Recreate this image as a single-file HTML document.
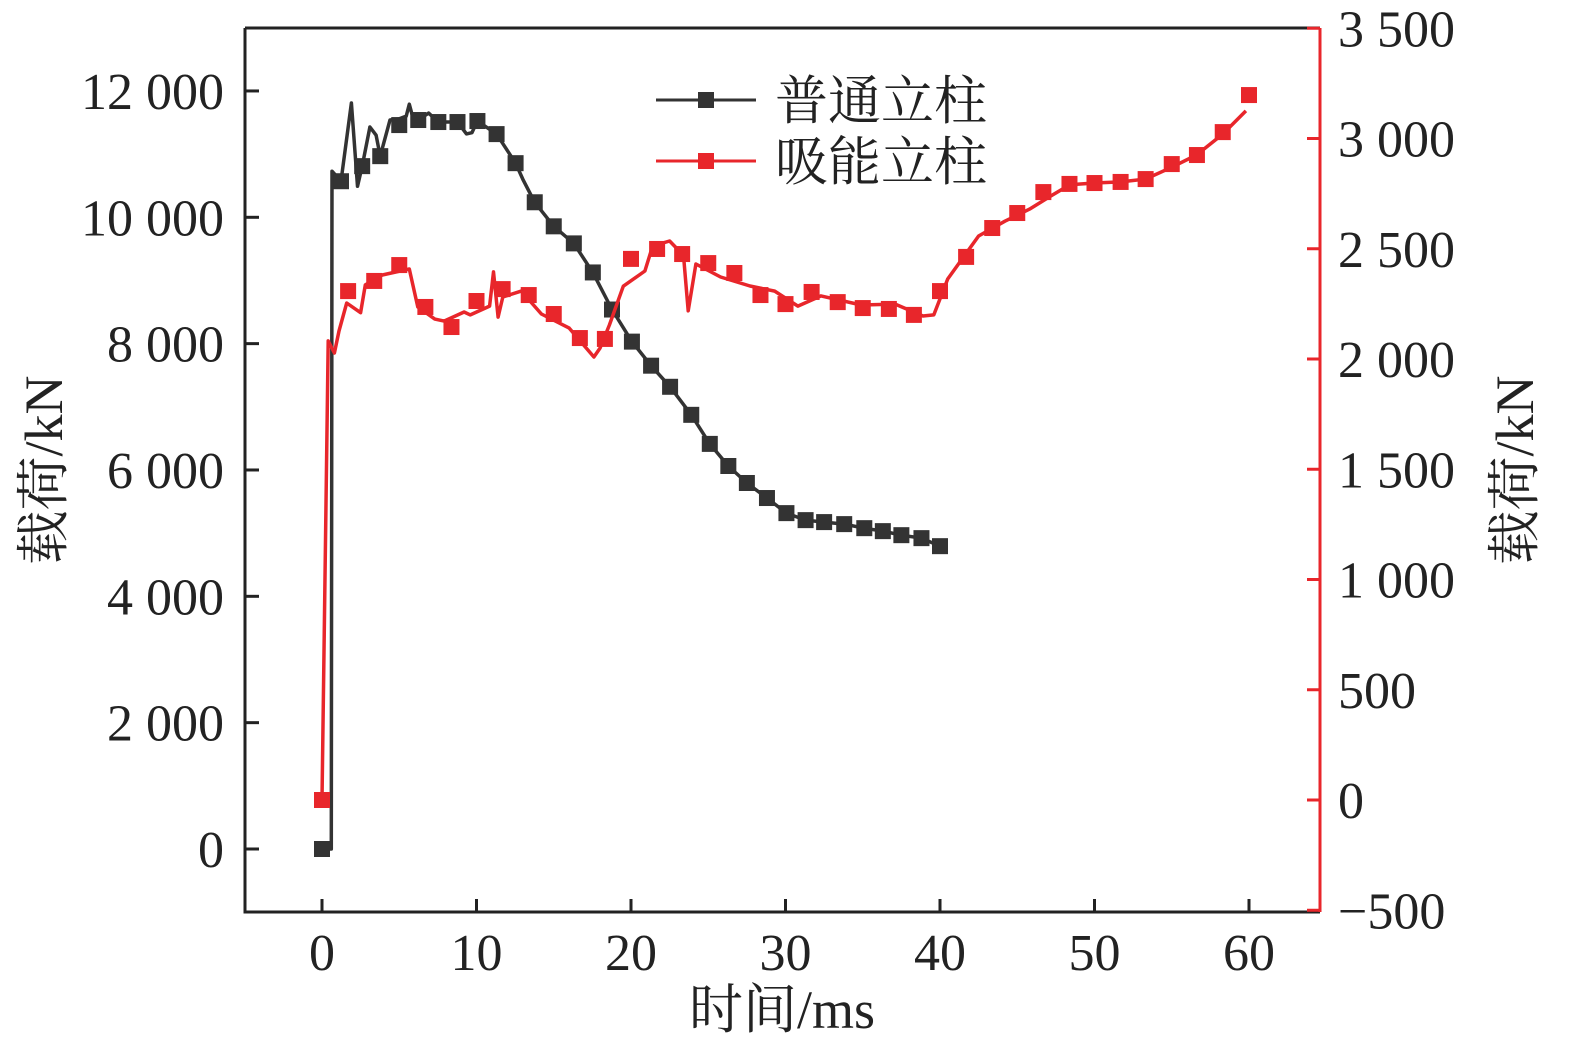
<!DOCTYPE html>
<html><head><meta charset="utf-8"><style>
html,body{margin:0;padding:0;background:#fff;}
svg text{font-family:"Liberation Serif","Noto Serif CJK SC",serif;}
</style></head><body>
<svg id="chart" width="1575" height="1049" viewBox="0 0 1575 1049" xmlns="http://www.w3.org/2000/svg">
<g id="axes"></g><g id="series"></g><g id="legend"></g>
</svg>
<script>
const xTicks=[0,10,20,30,40,50,60];
const leftTicks=[0,2000,4000,6000,8000,10000,12000];
const leftTickLabels=["0","2 000","4 000","6 000","8 000","10 000","12 000"];
const rightTicks=[-500,0,500,1000,1500,2000,2500,3000,3500];
const rightTickLabels=["\u2212500","0","500","1 000","1 500","2 000","2 500","3 000","3 500"];
const blackMarkT=[0,1.23,2.6,3.77,5.0,6.23,7.53,8.77,10.06,11.3,12.53,13.77,15.0,16.3,17.53,18.77,20.06,21.3,22.53,23.9,25.1,26.3,27.5,28.8,30.06,31.3,32.5,33.8,35.1,36.3,37.5,38.8,40.0];
const blackMarkV=[0,10571,10810,10968,11460,11540,11508,11508,11524,11317,10857,10238,9857,9587,9127,8540,8032,7651,7317,6873,6413,6063,5794,5556,5317,5206,5175,5143,5079,5032,4968,4921,4794];
const blackLineT=[0,0.6,0.65,1.23,1.9,2.3,2.6,3.1,3.5,3.77,4.4,5.0,5.45,5.65,5.9,6.23,6.9,7.53,8.77,9.35,9.7,10.06,11.3,12.53,13.0,13.77,15.0,16.3,17.53,18.77,20.06,21.3,22.53,23.9,25.1,26.3,27.5,28.8,30.06,31.3,32.5,33.8,35.1,36.3,37.5,38.8,40.0];
const blackLineV=[0,0,10730,10571,11810,10490,10810,11430,11300,10968,11540,11560,11600,11790,11560,11540,11650,11508,11508,11320,11340,11524,11317,10857,10600,10238,9857,9587,9127,8540,8032,7651,7317,6873,6413,6063,5794,5556,5317,5206,5175,5143,5079,5032,4968,4921,4794];
const redMarkT=[0,1.69,3.38,5.0,6.69,8.38,10.0,11.69,13.38,15.0,16.69,18.31,20.0,21.69,23.31,25.0,26.69,28.38,30.0,31.69,33.38,35.0,36.69,38.31,40.0,41.69,43.38,45.0,46.69,48.38,50.0,51.69,53.31,55.0,56.63,58.3,60.0];
const redMarkV=[0,2308,2354,2426,2236,2145,2263,2317,2290,2204,2095,2091,2454,2499,2476,2435,2390,2290,2249,2304,2258,2231,2227,2200,2308,2463,2594,2662,2757,2794,2798,2803,2816,2884,2925,3029,3197];
const redLineT=[0,0.4,0.8,1.1,1.6,2.5,2.8,3.9,5.65,6.2,7.3,7.9,9.2,9.6,10.85,11.1,11.4,11.7,12.9,14.2,16.0,17.6,18.0,18.6,19.5,20.9,21.4,22.5,23.4,23.7,24.2,25.8,27.7,29.3,30.8,32.3,34.9,37.1,38.9,39.6,40.5,42.5,44.2,45.8,47.2,48.4,50.0,51.7,53.3,55.0,56.6,58.3,59.8];
const redLineV=[0,2082,2027,2127,2254,2210,2336,2381,2408,2236,2181,2172,2213,2200,2240,2395,2190,2281,2308,2204,2140,2009,2050,2154,2330,2399,2512,2535,2470,2218,2431,2372,2331,2308,2240,2286,2245,2249,2195,2200,2363,2558,2625,2680,2740,2790,2798,2803,2816,2870,2925,3020,3125];

const NS="http://www.w3.org/2000/svg";
const X0=245,X1=1320,Y0=28,Y1=912;
function sx(t){return 322+t*15.45;}
function syL(v){return 849-v*0.06317;}
function syR(v){return 800-v*0.2205;}
function mk(tag,attrs,parent,text){const e=document.createElementNS(NS,tag);for(const k in attrs)e.setAttribute(k,attrs[k]);if(text!==undefined)e.textContent=text;parent.appendChild(e);return e;}
const axes=document.getElementById('axes'),series=document.getElementById('series'),legend=document.getElementById('legend');
let e;
e=mk('path',{d:`M${X0},${Y0}H${X1}M${X0},${Y0}V${Y1}H${X1}`,stroke:'#222',fill:'none','stroke-width':3},axes);


e=mk('line',{x1:X1,y1:Y0,x2:X1,y2:Y1,stroke:'#e8262b','stroke-width':3},axes);


xTicks.forEach(t=>{
 e=mk('line',{x1:sx(t),x2:sx(t),y1:Y1,y2:Y1-13,stroke:'#222','stroke-width':3},axes);
 
 
 e=mk('text',{x:sx(t),y:970,'font-size':52,'text-anchor':'middle',fill:'#222'},axes,String(t));
 
 
});
leftTicks.forEach((v,i)=>{
 e=mk('line',{x1:X0,x2:X0+14,y1:syL(v),y2:syL(v),stroke:'#222','stroke-width':3},axes);
 
 
 e=mk('text',{x:224,y:syL(v)+18,'font-size':52,'text-anchor':'end',fill:'#222'},axes,leftTickLabels[i]);
 
 
});
rightTicks.forEach((v,i)=>{
 e=mk('line',{x1:X1-13,x2:X1,y1:syR(v),y2:syR(v),stroke:'#e8262b','stroke-width':3},axes);
 
 
 e=mk('text',{x:1338,y:syR(v)+18,'font-size':52,'text-anchor':'start',fill:'#222'},axes,rightTickLabels[i]);
 
 
});
e=mk('text',{x:782,y:1028,'font-size':54,'text-anchor':'middle',fill:'#222'},axes,'时间/ms');


e=mk('text',{x:0,y:0,'font-size':54,'text-anchor':'middle',fill:'#222',transform:'translate(62,470) rotate(-90)'},axes,'载荷/kN');


e=mk('text',{x:0,y:0,'font-size':54,'text-anchor':'middle',fill:'#222',transform:'translate(1533,470) rotate(-90)'},axes,'载荷/kN');



function drawSeries(name,color,lt,lv,mt,mv,sy){
 const d=lt.map((t,i)=>(i?'L':'M')+sx(t).toFixed(1)+','+sy(lv[i]).toFixed(1)).join('');
 let p=mk('path',{d:d,stroke:color,fill:'none','stroke-width':3.5,'stroke-linejoin':'round'},series);
 
 
 mt.forEach((t,i)=>{
  let r=mk('rect',{x:sx(t)-8,y:sy(mv[i])-8,width:16,height:16,fill:color},series);
  
  
 });
}
drawSeries('ordinary-column','#333',blackLineT,blackLineV,blackMarkT,blackMarkV,syL);
drawSeries('energy-absorbing-column','#e8262b',redLineT,redLineV,redMarkT,redMarkV,syR);

[['ordinary-column','#333','普通立柱',100],['energy-absorbing-column','#e8262b','吸能立柱',161]].forEach(([n,c,lab,y])=>{
 const g=mk('g',{},legend);
 
 
 mk('line',{x1:656,x2:756,y1:y,y2:y,stroke:c,'stroke-width':3},g);
 mk('rect',{x:698,y:y-8,width:16,height:16,fill:c},g);
 mk('text',{x:775,y:y+19,'font-size':53,fill:'#222'},g,lab);
});
</script>
</body></html>
